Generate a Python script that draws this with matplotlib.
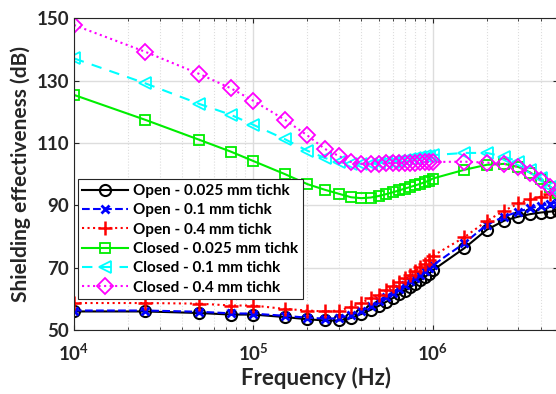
import matplotlib
matplotlib.use("Agg")
import matplotlib.pyplot as plt
import numpy as np

plt.rcParams['font.family'] = ['Lato', 'DejaVu Sans']
plt.rcParams['font.weight'] = 'bold'
plt.rcParams['mathtext.fontset'] = 'custom'
plt.rcParams['mathtext.bf'] = 'Lato:bold'
plt.rcParams['mathtext.rm'] = 'Lato:bold'

freq = [1e4, 2.5e4, 5e4, 7.5e4, 1e5, 1.5e5,
        2e5, 2.5e5, 3e5, 3.5e5, 4e5, 4.5e5, 5e5, 5.5e5, 6e5, 6.5e5, 7e5,
        7.5e5, 8e5, 8.5e5, 9e5, 9.5e5, 1e6,
        1.5e6, 2e6, 2.5e6, 3e6, 3.5e6, 4e6, 4.5e6, 5e6]

open_025 = [56.0, 56.0, 55.5, 55.0, 55.0, 54.2,
            53.5, 53.1, 53.1, 53.9, 55.2, 56.5, 57.8, 59.1, 60.3, 61.5, 62.7,
            63.8, 64.9, 66.0, 67.0, 68.0, 69.2,
            76.3, 82.2, 85.1, 86.4, 87.2, 87.7, 88.0, 88.2]
open_01 = [56.3, 56.3, 55.9, 55.4, 55.3, 54.6,
           54.0, 53.7, 53.8, 55.0, 56.2, 57.6, 59.2, 60.6, 61.9, 63.1, 64.4,
           65.6, 66.7, 67.8, 68.9, 69.8, 70.8,
           77.9, 83.8, 86.4, 88.0, 89.1, 89.8, 90.5, 91.0]
open_04 = [58.7, 58.7, 58.5, 57.9, 57.9, 56.8,
           56.3, 56.0, 56.3, 57.4, 58.7, 60.3, 61.4, 62.8, 64.1, 65.4, 66.6,
           67.8, 69.0, 70.2, 71.3, 72.5, 73.8,
           79.8, 85.0, 88.3, 90.6, 91.9, 92.8, 93.5, 94.0]
closed_025 = [125.4, 117.4, 111.0, 107.2, 104.2, 100.0,
              96.8, 95.0, 93.7, 92.6, 92.3, 92.5, 93.0, 93.6, 94.2, 94.8, 95.4,
              95.9, 96.4, 96.9, 97.4, 97.9, 98.6,
              101.4, 103.0, 103.3, 102.3, 100.5, 98.3, 96.0, 94.0]
closed_01 = [137.1, 129.1, 122.5, 119.0, 115.8, 111.2,
             107.5, 105.2, 103.8, 103.4, 103.3, 103.4, 103.6, 103.8, 104.0, 104.3, 104.6,
             104.9, 105.2, 105.5, 105.7, 105.9, 106.1,
             106.8, 106.8, 105.6, 104.0, 101.4, 98.8, 96.0, 94.0]
closed_04 = [147.8, 139.2, 132.1, 127.5, 123.5, 117.4,
             112.4, 108.1, 105.8, 103.9, 103.3, 103.3, 103.4, 103.5, 103.5, 103.6, 103.6,
             103.7, 103.7, 103.8, 103.8, 103.9, 103.9,
             104.0, 103.7, 103.3, 102.3, 100.4, 98.2, 96.0, 94.5]

labels = ["Open - 0.025 mm tichk", "Open - 0.1 mm tichk", "Open - 0.4 mm tichk",
          "Closed - 0.025 mm tichk", "Closed - 0.1 mm tichk", "Closed - 0.4 mm tichk"]

fig = plt.figure(figsize=(5.56, 3.94), dpi=100)
ax = fig.add_axes([0.133, 0.162, 0.871, 0.792])

ax.semilogx(freq, open_025, 'k-o', mfc='none', ms=8, mew=1.5, lw=1.5, label=labels[0])
ax.semilogx(freq, open_01, 'b--x', ms=6, mew=2, lw=1.5, label=labels[1])
ax.semilogx(freq, open_04, 'r:+', ms=10, mew=1.8, lw=1.5, label=labels[2])
ax.semilogx(freq, closed_025, '-s', color='#00ee00', mfc='none', ms=7, mew=1.3, lw=1.5, label=labels[3])
ax.semilogx(freq, closed_01, '--<', color='#00ffff', mfc='none', ms=9, mew=1.3, lw=1.5,
            dashes=(5, 4), label=labels[4])
ax.semilogx(freq, closed_04, ':D', color='#ff00ff', mfc='none', ms=8, mew=1.3, lw=1.5, label=labels[5])

ax.set_xlim(1e4, 5e6)
ax.set_ylim(50, 150)
ax.set_yticks([50, 70, 90, 110, 130, 150])
ax.set_xticks([1e4, 1e5, 1e6])
ax.set_xticklabels([r'$\mathbf{10^{4}}$', r'$\mathbf{10^{5}}$', r'$\mathbf{10^{6}}$'])
ax.tick_params(axis='both', which='both', direction='in', top=True, right=True,
               labelsize=13.5, colors='#262626')
ax.tick_params(axis='x', pad=9)
ax.grid(True, which='major', color='#dddddd', lw=1)
ax.grid(True, which='minor', axis='x', color='#dddddd', ls=':', lw=0.8)
for sp in ax.spines.values():
    sp.set_color('#262626')

ax.set_xlabel('Frequency (Hz)', fontsize=16, fontweight='bold', color='#262626', labelpad=2)
ax.set_ylabel('Shielding effectiveness (dB)', fontsize=15, fontweight='bold', color='#262626')

leg = ax.legend(loc='upper left', bbox_to_anchor=(0.008, 0.483),
                prop={'weight': 'bold', 'size': 11}, fancybox=False, framealpha=1,
                edgecolor='#262626', handlelength=3, borderpad=0.3, labelspacing=0.35,
                handletextpad=0.3, borderaxespad=0)
leg.get_frame().set_linewidth(0.8)

fig.savefig('out.png', dpi=100)
